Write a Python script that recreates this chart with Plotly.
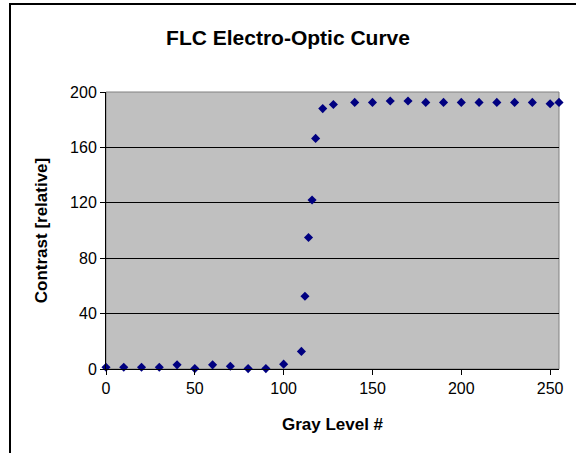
import plotly.graph_objects as go

gray_level = [0, 10, 20, 30, 40, 50, 60, 70, 80, 90, 100, 110, 112, 114, 116, 118, 122, 128,
              140, 150, 160, 170, 180, 190, 200, 210, 220, 230, 240, 250, 255]
contrast = [1.3, 1.3, 1.3, 1.3, 3.0, 0.3, 3.0, 2.0, 0.3, 0.3, 3.5, 12.7, 52.5, 95, 122, 166.5, 188, 191,
            192.5, 192.5, 193.5, 193.5, 192.5, 192.5, 192.5, 192.5, 192.5, 192.5, 192.5, 191.5, 192.5]
x_ticks = [0, 50, 100, 150, 200, 250]
y_ticks = [0, 40, 80, 120, 160, 200]

W, H = 576, 453
L, R, T, B = 106, 17, 92, 84

fig = go.Figure()
fig.add_trace(go.Scatter(
    x=gray_level, y=contrast, mode="markers",
    marker=dict(symbol="diamond", size=7, color="#000080", line=dict(width=0)),
    cliponaxis=False, showlegend=False,
))

pw = W - L - R
ph = H - T - B
fig.add_shape(type="rect", xref="paper", yref="paper",
              x0=(10 - L) / pw, x1=(600 - L) / pw,
              y0=-(480 - (H - B)) / ph, y1=((H - B) - 4) / ph,
              line=dict(color="#000000", width=2), fillcolor="rgba(0,0,0,0)", layer="below")
# plot-area border (gray, top & right)
fig.add_shape(type="rect", xref="paper", yref="paper", x0=0, x1=1, y0=0, y1=1,
              line=dict(color="#808080", width=1), fillcolor="rgba(0,0,0,0)", layer="below")

font_family = "Liberation Sans, Arial, sans-serif"
fig.update_layout(
    width=W, height=H,
    margin=dict(l=L, r=R, t=T, b=B, autoexpand=False),
    paper_bgcolor="white", plot_bgcolor="#C0C0C0",
    font=dict(family=font_family, size=16, color="black"),
    title=dict(text="<b>FLC Electro-Optic Curve</b>", x=288 / W, xref="container", xanchor="center",
               y=1 - 38 / H, yref="container", yanchor="middle",
               font=dict(size=21, family=font_family, color="black")),
    xaxis=dict(range=[0, 255], tickvals=x_ticks, ticks="outside", ticklen=5, tickcolor="black",
               showline=True, linecolor="black", linewidth=1, showgrid=False, zeroline=False,
               tickfont=dict(size=16), title=dict(text="<b>Gray Level #</b>", font=dict(size=17), standoff=21)),
    yaxis=dict(range=[0, 200], tickvals=y_ticks, ticks="outside", ticklen=5, tickcolor="black",
               showline=True, linecolor="black", linewidth=1, showgrid=True, gridcolor="black",
               gridwidth=1, zeroline=False, tickfont=dict(size=16),
               title=dict(text="<b>Contrast [relative]</b>", font=dict(size=17), standoff=18)),
)

fig.write_html("out.html", config={"displayModeBar": False},
               post_script="document.body.style.margin='0';")
